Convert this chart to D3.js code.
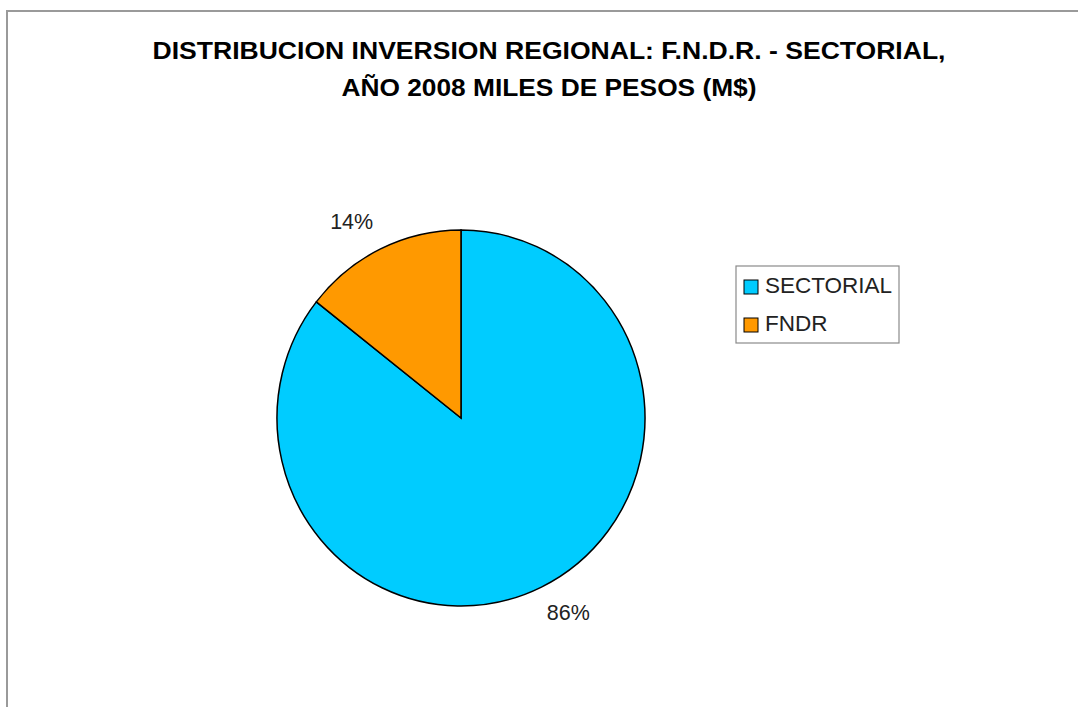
<!DOCTYPE html>
<html>
<head>
<meta charset="utf-8">
<script src="https://cdn.jsdelivr.net/npm/d3@7"></script>
<style>
  body { margin: 0; background: #fff; }
  svg { display: block; font-family: "Liberation Sans", Arial, sans-serif; }
</style>
</head>
<body>
<div id="chart"></div>
<script>
// chart data
const categories = ["SECTORIAL", "FNDR"];
const values = [85.6, 14.4];
const colors = ["#00ccff", "#ff9900"];
const titleLines = [
  "DISTRIBUCION INVERSION REGIONAL: F.N.D.R. - SECTORIAL,",
  "AÑO 2008 MILES DE PESOS (M$)"
];

const width = 1078, height = 707;
const cx = 461, cy = 418, rx = 184, ry = 188;

const svg = d3.select("#chart").append("svg")
  .attr("width", width)
  .attr("height", height);

// outer frame (only top and left edges are visible)
svg.append("rect")
  .attr("x", 7).attr("y", 11)
  .attr("width", width + 20).attr("height", height + 20)
  .attr("fill", "none")
  .attr("stroke", "#9a9a9a")
  .attr("stroke-width", 2);

// title (stretched a little wider, like the original)
const titleWidths = [793, 415];
svg.append("g")
  .selectAll("text")
  .data(titleLines)
  .join("text")
  .attr("x", 549)
  .attr("y", (d, i) => 59 + i * 37)
  .attr("text-anchor", "middle")
  .attr("font-size", 23)
  .attr("font-weight", "bold")
  .attr("fill", "#000")
  .attr("textLength", (d, i) => titleWidths[i])
  .attr("lengthAdjust", "spacingAndGlyphs")
  .text(d => d);

const data = categories.map((c, i) => ({ name: c, value: values[i], color: colors[i] }));
const total = d3.sum(values);

const pie = d3.pie().sort(null).value(d => d.value);
const arcs = pie(data);
const arc = d3.arc().innerRadius(0).outerRadius(rx);

const pieGroup = svg.append("g")
  .attr("transform", `translate(${cx},${cy}) scale(1,${ry / rx})`);

pieGroup.selectAll("path")
  .data(arcs)
  .join("path")
  .attr("d", arc)
  .attr("fill", d => d.data.color)
  .attr("stroke", "#000")
  .attr("stroke-width", 1.5)
  .attr("vector-effect", "non-scaling-stroke");

// percent labels just outside the pie edge
const labelArc = d3.arc().innerRadius(rx + 10).outerRadius(rx + 10);
const labelPos = d => {
  const [x, y] = labelArc.centroid(d);
  return { x: cx + x, y: cy + y * ry / rx, left: x < 0, top: y < 0 };
};
svg.append("g")
  .selectAll("text")
  .data(arcs)
  .join("text")
  .attr("x", d => { const p = labelPos(d); return p.left ? p.x - 3 : p.x + 1; })
  .attr("y", d => { const p = labelPos(d); return p.top ? p.y - 11 : p.y + 24; })
  .attr("text-anchor", d => labelPos(d).left ? "end" : "start")
  .attr("font-size", 21.5)
  .attr("fill", "#222")
  .text(d => d3.format(".0%")(d.data.value / total));

// legend
const legend = svg.append("g").attr("transform", "translate(736,266)");
legend.append("rect")
  .attr("width", 163).attr("height", 77)
  .attr("fill", "#fff")
  .attr("stroke", "#8a8a8a")
  .attr("stroke-width", 1.2);

const item = legend.selectAll("g.item")
  .data(data)
  .join("g")
  .attr("class", "item")
  .attr("transform", (d, i) => `translate(8,${14 + i * 38})`);

item.append("rect")
  .attr("width", 14).attr("height", 14)
  .attr("fill", d => d.color)
  .attr("stroke", "#000")
  .attr("stroke-width", 1);

item.append("text")
  .attr("x", 21).attr("y", 13)
  .attr("font-size", 22.5)
  .attr("fill", "#222")
  .text(d => d.name);
</script>
</body>
</html>
